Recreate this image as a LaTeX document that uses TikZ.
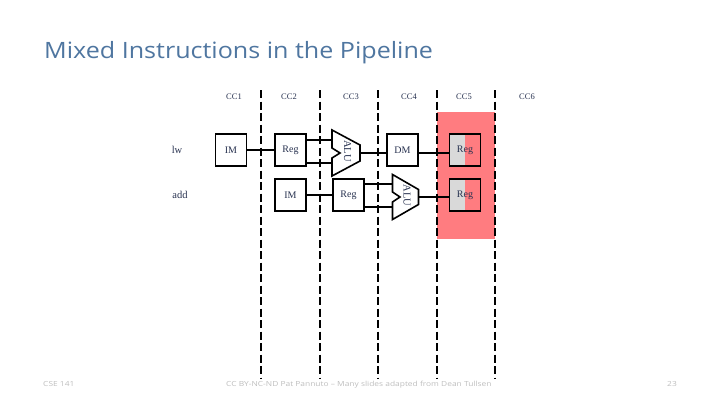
\documentclass[tikz,border=0pt]{standalone}
\usepackage{fontspec}
\usepackage{graphicx}
\setmainfont{Liberation Serif}
\newfontfamily\titlefont{Open Sans}
\usetikzlibrary{calc}
\definecolor{titleblue}{RGB}{79,118,160}
\definecolor{hlpink}{RGB}{255,124,128}
\definecolor{halfgray}{RGB}{217,217,217}
\definecolor{boxtext}{RGB}{40,50,80}
\definecolor{foot}{RGB}{190,190,190}
\tikzset{
  ccline/.style={line width=2pt, dash pattern=on 8pt off 3.5pt},
  cclabel/.style={font=\fontsize{8.5}{9}\selectfont, text=boxtext, inner sep=0pt},
  instr/.style={font=\fontsize{10.5}{11}\selectfont, text=boxtext, inner sep=0pt},
  stagebox/.style={draw, line width=1.8pt, fill=white, minimum width=31pt, minimum height=32pt, inner sep=0pt,
    font=\fontsize{10}{11}\selectfont, text=boxtext},
  wbbox/.style={draw, line width=1.8pt, minimum width=31pt, minimum height=32pt, inner sep=0pt,
    font=\fontsize{10}{11}\selectfont, text=boxtext,
    path picture={\fill[halfgray] (path picture bounding box.north west) rectangle (path picture bounding box.south);}},
  alunode/.style={inner sep=0pt, rotate=-90, font=\fontsize{10.5}{11}\selectfont, text=boxtext},
  wire/.style={line width=1.8pt},
  aluline/.style={line width=1.6pt, line join=miter},
  foottext/.style={font=\titlefont\fontsize{7}{8}\selectfont, text=foot, inner sep=0pt}
}
\begin{document}
\begin{tikzpicture}[x=1pt,y=-1pt]
\useasboundingbox (0,0) rectangle (720,405);
% title
\node[anchor=base west, inner sep=0pt, text=titleblue, font=\titlefont\fontsize{22.5}{24}\selectfont] (title) at (44,58) {\scalebox{1.115}[1]{Mixed Instructions in the Pipeline}};
% highlight
\fill[hlpink] (437,112) rectangle (495,239);
% dashed clock lines
\foreach \x/\n in {261/d1,320/d2,378/d3,437/d4,495/d5}{
  \coordinate (\n top) at (\x,90);
  \coordinate (\n bot) at (\x,379);
  \draw[ccline] (\n top) -- (\n bot);
}
% clock labels
\node[cclabel] (cc1) at (234,97) {CC1};
\node[cclabel] (cc2) at (289,97) {CC2};
\node[cclabel] (cc3) at (351,97) {CC3};
\node[cclabel] (cc4) at (409,97) {CC4};
\node[cclabel] (cc5) at (464,97) {CC5};
\node[cclabel] (cc6) at (527,97) {CC6};
% instruction labels
\node[instr] (lw) at (177,150) {lw};
\node[instr] (add) at (180,195) {add};
% row 1
\node[stagebox] (im1) at (231,150) {IM};
\node[stagebox] (reg1) at (290.5,150) {Reg};
\node[alunode, minimum width=46pt, minimum height=28pt] (alu1) at (346,153) {};
\coordinate (alu1w) at ([shift={(-14,0)}]alu1.center);
\coordinate (alu1e) at ([shift={(14,0)}]alu1.center);
\draw[aluline] ([shift={(-14,-23)}]alu1.center) -- ([shift={(14,-8)}]alu1.center) -- ([shift={(14,8)}]alu1.center)
  -- ([shift={(-14,23)}]alu1.center) -- ([shift={(-14,5)}]alu1.center) -- ([shift={(-6,0)}]alu1.center)
  -- ([shift={(-14,-5)}]alu1.center) -- cycle;
\node[alunode] (alu1t) at (347.5,151) {ALU};
\node[stagebox] (dm) at (402.5,150) {DM};
\node[wbbox] (wb1) at (465,150) {Reg};
\coordinate (r1a) at ([yshift=10pt]reg1.east);
\coordinate (r1b) at ([yshift=-13pt]reg1.east);
\draw[wire] (r1a) -- (r1a -| alu1w);
\draw[wire] (r1b) -- (r1b -| alu1w);
\draw[wire] (im1.east) -- (reg1.west);
\draw[wire] (alu1e) -- (alu1e -| dm.west);
\draw[wire] (alu1e -| dm.east) -- (alu1e -| wb1.west);
% row 2
\node[stagebox] (im2) at (290.5,195) {IM};
\node[stagebox] (reg2) at (348.5,195) {Reg};
\node[alunode, minimum width=45pt, minimum height=26pt] (alu2) at (405.5,197) {};
\coordinate (alu2w) at ([shift={(-13,0)}]alu2.center);
\coordinate (alu2e) at ([shift={(13,0)}]alu2.center);
\draw[aluline] ([shift={(-13,-22.5)}]alu2.center) -- ([shift={(13,-7.5)}]alu2.center) -- ([shift={(13,7.5)}]alu2.center)
  -- ([shift={(-13,22.5)}]alu2.center) -- ([shift={(-13,5)}]alu2.center) -- ([shift={(-5.5,0)}]alu2.center)
  -- ([shift={(-13,-5)}]alu2.center) -- cycle;
\node[alunode] (alu2t) at (407,195.5) {ALU};
\node[wbbox] (wb2) at (465,195) {Reg};
\coordinate (r2a) at ([yshift=11pt]reg2.east);
\coordinate (r2b) at ([yshift=-12pt]reg2.east);
\draw[wire] (im2.east) -- (reg2.west);
\draw[wire] (r2a) -- (r2a -| alu2w);
\draw[wire] (r2b) -- (r2b -| alu2w);
\draw[wire] (alu2e) -- (alu2e -| wb2.west);
% footer
\node[foottext, anchor=base west] (fl) at (43,386.5) {\scalebox{1.2}[1]{CSE 141}};
\node[foottext, anchor=base west] (fc) at (226,386.5) {\scalebox{1.2}[1]{CC BY-NC-ND Pat Pannuto – Many slides adapted from Dean Tullsen}};
\node[foottext, anchor=base east] (fr) at (677,386.5) {\scalebox{1.2}[1]{23}};
\end{tikzpicture}
\end{document}
